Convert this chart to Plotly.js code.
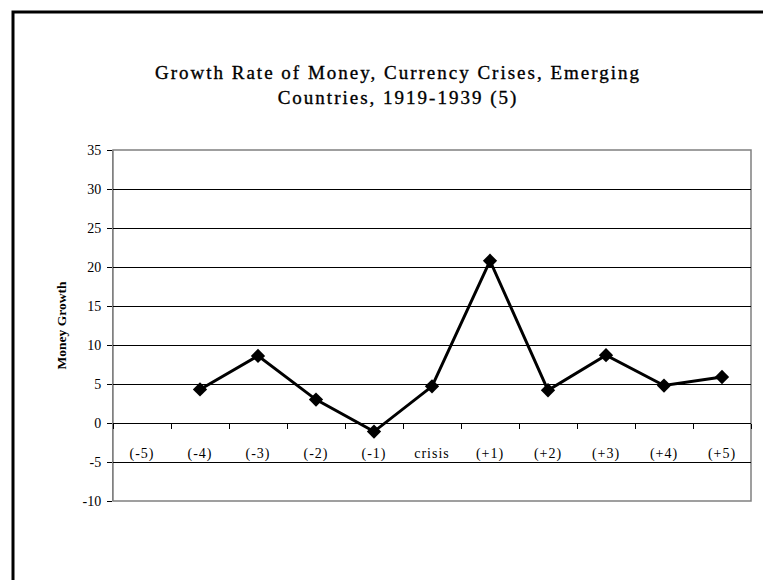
<!DOCTYPE html>
<html>
<head>
<meta charset="utf-8">
<script src="https://cdn.plot.ly/plotly-3.0.1.min.js"></script>
<style>
  html, body { margin: 0; padding: 0; background: #fff; }
  #chart { width: 763px; height: 580px; }
  .gtitle { letter-spacing: 2px; stroke: #000; stroke-width: 0.35px; }
  .xtick text { letter-spacing: 1px; }
</style>
</head>
<body>
<div id="chart"></div>
<script>
// Data
var categories = ["(-5)", "(-4)", "(-3)", "(-2)", "(-1)", "crisis", "(+1)", "(+2)", "(+3)", "(+4)", "(+5)"];
var moneyGrowth = [null, 4.3, 8.6, 3.0, -1.1, 4.7, 20.8, 4.2, 8.7, 4.8, 5.9];
var yTickValues = [-10, -5, 0, 5, 10, 15, 20, 25, 30, 35];

var serif = "Liberation Serif, Times New Roman, serif";

var trace = {
  x: categories,
  y: moneyGrowth,
  type: "scatter",
  mode: "lines+markers",
  connectgaps: false,
  line: { color: "#000", width: 3 },
  marker: { symbol: "diamond", size: 11, color: "#000" },
  hoverinfo: "x+y",
  showlegend: false
};

var yMin = -10, yMax = 35;

var layout = {
  width: 763,
  height: 580,
  margin: { l: 113, r: 12, t: 150, b: 79, pad: 0 },
  paper_bgcolor: "#fff",
  plot_bgcolor: "#fff",
  title: {
    text: "Growth Rate of Money, Currency Crises, Emerging<br>Countries, 1919-1939 (5)",
    font: { family: serif, size: 19, color: "#000" },
    x: 398 / 763,
    xref: "container",
    xanchor: "center",
    y: 1 - 79 / 580,
    yref: "container",
    yanchor: "middle"
  },
  xaxis: {
    type: "category",
    categoryorder: "array",
    categoryarray: categories,
    range: [-0.5, categories.length - 0.5],
    anchor: "free",
    position: (0 - yMin) / (yMax - yMin),
    showline: true,
    linecolor: "#000",
    linewidth: 1,
    showgrid: false,
    zeroline: false,
    ticks: "outside",
    tickson: "boundaries",
    ticklen: 5,
    tickcolor: "#000",
    tickwidth: 1,
    ticklabelstandoff: 17,
    tickfont: { family: serif, size: 14, color: "#000" },
    fixedrange: true
  },
  yaxis: {
    range: [yMin, yMax],
    tickvals: yTickValues,
    ticktext: yTickValues.map(String),
    showline: true,
    linecolor: "#808080",
    linewidth: 1,
    showgrid: true,
    gridcolor: "#000",
    gridwidth: 1,
    zeroline: true,
    zerolinecolor: "#000",
    zerolinewidth: 1,
    ticks: "outside",
    ticklen: 5,
    tickcolor: "#000",
    ticklabelstandoff: 3,
    tickfont: { family: serif, size: 14, color: "#000" },
    title: {
      text: "Money Growth",
      font: { family: serif, size: 13.5, color: "#000", weight: "bold" },
      standoff: 12
    },
    fixedrange: true
  },
  shapes: [
    {
      type: "rect", xref: "paper", yref: "paper",
      x0: 0, x1: 1, y0: 0, y1: 1,
      line: { color: "#808080", width: 1.5 },
      fillcolor: "rgba(0,0,0,0)",
      layer: "below"
    },
    {
      type: "rect", xref: "paper", yref: "paper",
      x0: (13 - 113) / 638, x1: 1.2,
      y0: -0.5, y1: 1 + (150 - 12) / 351,
      line: { color: "#000", width: 3 },
      fillcolor: "rgba(0,0,0,0)",
      layer: "above"
    }
  ]
};

Plotly.newPlot("chart", [trace], layout, { displayModeBar: false, staticPlot: true });
</script>
</body>
</html>
